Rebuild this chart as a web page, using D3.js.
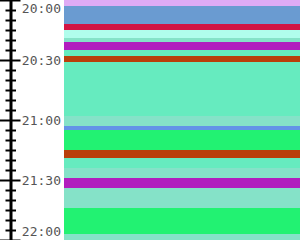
<!DOCTYPE html>
<html>
<head>
<meta charset="utf-8">
<script src="https://d3js.org/d3.v7.min.js"></script>
<style>
  body { margin: 0; background: #fff; }
  svg { display: block; }
</style>
</head>
<body>
<script>
// segments of the evening, 20:00 -> 22:00
var starts = ["20:00","20:03","20:12","20:15","20:19","20:21","20:25","20:28","20:31","20:58",
              "21:03","21:05","21:15","21:19","21:24","21:29","21:34","21:44","21:57"];
var ends   = ["20:03","20:12","20:15","20:19","20:21","20:25","20:28","20:31","20:58","21:03",
              "21:05","21:15","21:19","21:24","21:29","21:34","21:44","21:57","22:00"];
var states = ["plum","steel","crimson","paleaqua","teal","purple","aqua","rust","aqua","teal",
              "cornflower","green","rust","aqua","teal","purple","teal","green","teal"];

var stateNames  = ["plum","steel","crimson","paleaqua","teal","purple","aqua","rust","cornflower","green"];
var stateColors = ["#dfabf5","#6a9bd1","#d11443","#b0fdec","#85e2c8","#b11ebe","#66ebbf","#b93f0b","#6393e7","#22f272"];

var tickLabels = ["20:00","20:30","21:00","21:30","22:00"];

var width = 300, height = 240;
var parse = d3.timeParse("%H:%M");

var svg = d3.select("body").append("svg")
  .attr("width", width)
  .attr("height", height);

var y = d3.scaleTime()
  .domain([parse("20:00"), parse("22:00")])
  .range([0, height]);

var x = d3.scaleLinear().domain([0, 1]).range([64, width]);

var color = d3.scaleOrdinal().domain(stateNames).range(stateColors);

var segs = starts.map(function(s, i) {
  return { start: parse(s), end: parse(ends[i]), state: states[i] };
});

svg.append("g").selectAll("rect").data(segs).enter().append("rect")
  .attr("x", x(0))
  .attr("width", x(1) - x(0))
  .attr("y", function(d) { return y(d.start); })
  .attr("height", function(d) { return y(d.end) - y(d.start); })
  .attr("fill", function(d) { return color(d.state); });

// time axis: minor tick every 5 min, long one every half hour
var axis = d3.axisLeft(y)
  .ticks(d3.timeMinute.every(5))
  .tickFormat("")
  .tickSizeOuter(0);

var ga = svg.append("g")
  .attr("transform", "translate(10.5,0)")
  .call(axis);

ga.select(".domain").attr("stroke", "#000").attr("stroke-width", 3);
ga.selectAll(".tick line")
  .attr("stroke", "#000")
  .attr("stroke-width", 2)
  .attr("x1", function(d) { return d.getMinutes() % 30 === 0 ? -11 : -5; })
  .attr("x2", function(d) { return d.getMinutes() % 30 === 0 ? 10 : 5.5; });

// labels sit between axis and bars, clamped inside the view
svg.append("g").selectAll("text").data(tickLabels).enter().append("text")
  .attr("x", 61)
  .attr("y", function(d) { return Math.max(8, Math.min(231, y(parse(d)))); })
  .attr("dy", "0.35em")
  .attr("text-anchor", "end")
  .attr("font-family", "DejaVu Sans Mono")
  .attr("font-size", 13)
  .attr("fill", "#555")
  .text(function(d) { return d; });
</script>
</body>
</html>
